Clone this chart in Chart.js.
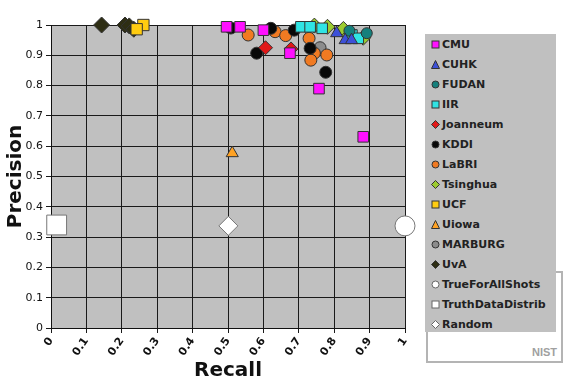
<!DOCTYPE html>
<html>
<head>
<meta charset="utf-8">
<script src="https://cdn.jsdelivr.net/npm/chart.js@4.4.0/dist/chart.umd.min.js"></script>
<style>
  html, body { margin: 0; padding: 0; background: #fff; }
  #wrap { position: relative; width: 564px; height: 385px; }
  #frame { position: absolute; left: 426px; top: 271px; width: 133px; height: 88px;
           border: 2px solid #b4b4b4; background: #fff; }
  #nist { position: absolute; right: 4px; bottom: 3px; color: #a0a0a0;
          font: bold 11px "Liberation Sans", Arial, sans-serif; }
  #legend { position: absolute; left: 425px; top: 34px; width: 131px; height: 298px;
            background: #c0c0c0; font: bold 11px "DejaVu Sans", sans-serif; color: #222; }
  .row { height: 20px; display: flex; align-items: center; white-space: nowrap; }
  .row svg { margin: 0 2px 0 6px; }
</style>
</head>
<body>
<div id="wrap">
  <canvas id="prChart" width="564" height="385"></canvas>
  <div id="frame"><div id="nist">NIST</div></div>
  <div id="legend"></div>
</div>
<script>
// recall / precision pairs
const names = ['CMU', 'CUHK', 'FUDAN', 'IIR', 'Joanneum', 'KDDI', 'LaBRI', 'Tsinghua',
               'UCF', 'Uiowa', 'MARBURG', 'UvA', 'TrueForAllShots', 'TruthDataDistrib', 'Random'];

const cmu = [[0.496, 0.994], [0.534, 0.994], [0.600, 0.983], [0.675, 0.907], [0.757, 0.79], [0.882, 0.631]];
const cuhk = [[0.807, 0.973], [0.831, 0.95], [0.849, 0.95]];
const fudan = [[0.843, 0.981], [0.892, 0.973]];
const iir = [[0.706, 0.994], [0.732, 0.994], [0.766, 0.989], [0.85, 0.967], [0.868, 0.956]];
const joanneum = [[0.606, 0.925], [0.678, 0.921]];
const kddi = [[0.508, 0.99], [0.621, 0.989], [0.687, 0.983], [0.581, 0.907], [0.732, 0.923], [0.776, 0.844]];
const labri = [[0.557, 0.967], [0.633, 0.978], [0.663, 0.965], [0.729, 0.956], [0.744, 0.907], [0.779, 0.901], [0.734, 0.884]];
const tsinghua = [[0.744, 0.998], [0.781, 0.994], [0.826, 0.987], [0.842, 0.965], [0.882, 0.958]];
const ucf = [[0.261, 1.0], [0.242, 0.986]];
const uiowa = [[0.512, 0.577]];
const marburg = [[0.760, 0.925]];
const uva = [[0.143, 1.0], [0.209, 1.0], [0.221, 0.997], [0.234, 0.986]];
const trueForAll = [[1.0, 0.337]];
const truthDistrib = [[0.016, 0.34]];
const random = [[0.501, 0.337]];

const seriesData = [cmu, cuhk, fudan, iir, joanneum, kddi, labri, tsinghua,
                    ucf, uiowa, marburg, uva, trueForAll, truthDistrib, random];

const tickLabels = ['0', '0.1', '0.2', '0.3', '0.4', '0.5', '0.6', '0.7', '0.8', '0.9', '1'];

// marker look per series
const looks = [
  { shape: 'rect', fill: '#ff10ff', size: 7.5 },
  { shape: 'triangle', fill: '#3c50d8', size: 7 },
  { shape: 'circle', fill: '#15807c', size: 5.5 },
  { shape: 'rect', fill: '#30e4e4', size: 7.5 },
  { shape: 'rectRot', fill: '#e01818', size: 7 },
  { shape: 'circle', fill: '#080808', size: 6 },
  { shape: 'circle', fill: '#f07a22', size: 6 },
  { shape: 'rectRot', fill: '#9ccc30', size: 7.5 },
  { shape: 'rect', fill: '#ffcc10', size: 8 },
  { shape: 'triangle', fill: '#ffa224', size: 7 },
  { shape: 'circle', fill: '#8c8c8c', size: 6 },
  { shape: 'rectRot', fill: '#2e2e14', size: 8 },
  { shape: 'circle', fill: '#ffffff', size: 10 },
  { shape: 'rect', fill: '#ffffff', size: 14 },
  { shape: 'rectRot', fill: '#ffffff', size: 9.5 }
];

const plotBg = {
  id: 'plotBg',
  beforeDraw(c) {
    const { ctx, chartArea: a } = c;
    ctx.save();
    ctx.fillStyle = '#c0c0c0';
    ctx.fillRect(a.left, a.top, a.right - a.left, a.bottom - a.top);
    ctx.restore();
  }
};

const datasets = names.map((n, i) => ({
  label: n,
  data: seriesData[i].map(p => ({ x: p[0], y: p[1] })),
  pointStyle: looks[i].shape,
  pointRadius: looks[i].size,
  pointBackgroundColor: looks[i].fill,
  pointBorderColor: i >= 12 ? '#777' : '#333',
  pointBorderWidth: 1,
  clip: false
}));

new Chart(document.getElementById('prChart'), {
  type: 'scatter',
  data: { datasets },
  options: {
    responsive: false,
    animation: false,
    layout: { padding: { top: 25, right: 159, left: 0, bottom: 0 } },
    plugins: { legend: { display: false }, tooltip: { enabled: false } },
    scales: {
      x: {
        type: 'linear', min: 0, max: 1,
        afterFit: s => { s.height = 57; },
        ticks: {
          stepSize: 0.1, minRotation: 55, maxRotation: 55, padding: 2, color: '#111',
          font: { family: 'DejaVu Sans', size: 11, weight: 'bold' },
          callback: v => tickLabels[Math.round(v * 10)]
        },
        grid: { color: '#1a1a1a', tickLength: 5 },
        border: { color: '#111' },
        title: { display: true, text: 'Recall', color: '#111', padding: { top: 0, bottom: 2 },
                 font: { family: 'DejaVu Sans', size: 20, weight: 'bold' } }
      },
      y: {
        min: 0, max: 1,
        afterFit: s => { s.width = 51; },
        ticks: {
          stepSize: 0.1, padding: 3, color: '#111',
          font: { family: 'DejaVu Sans', size: 11 },
          callback: v => tickLabels[Math.round(v * 10)]
        },
        grid: { color: '#1a1a1a', tickLength: 5 },
        border: { color: '#111' },
        title: { display: true, text: 'Precision', color: '#111', padding: { top: 4, bottom: 0 },
                 font: { family: 'DejaVu Sans', size: 20, weight: 'bold' } }
      }
    }
  },
  plugins: [plotBg]
});

// legend drawn as html from the same names / looks
function markerSvg(look, edge) {
  const f = look.fill;
  let shape;
  if (look.shape === 'rect') shape = `<rect x="1" y="1" width="7" height="7" fill="${f}" stroke="${edge}"/>`;
  else if (look.shape === 'circle') shape = `<circle cx="4.5" cy="4.5" r="3.5" fill="${f}" stroke="${edge}"/>`;
  else if (look.shape === 'triangle') shape = `<polygon points="4.5,0.5 8.5,8.5 0.5,8.5" fill="${f}" stroke="${edge}"/>`;
  else shape = `<polygon points="4.5,0.5 8.5,4.5 4.5,8.5 0.5,4.5" fill="${f}" stroke="${edge}"/>`;
  return `<svg width="9" height="9" viewBox="0 0 9 9">${shape}</svg>`;
}

const legendDiv = document.getElementById('legend');
legendDiv.innerHTML = names.map((n, i) =>
  `<div class="row">${markerSvg(looks[i], i >= 12 ? '#666' : '#333')}<span>${n}</span></div>`
).join('');
</script>
</body>
</html>
